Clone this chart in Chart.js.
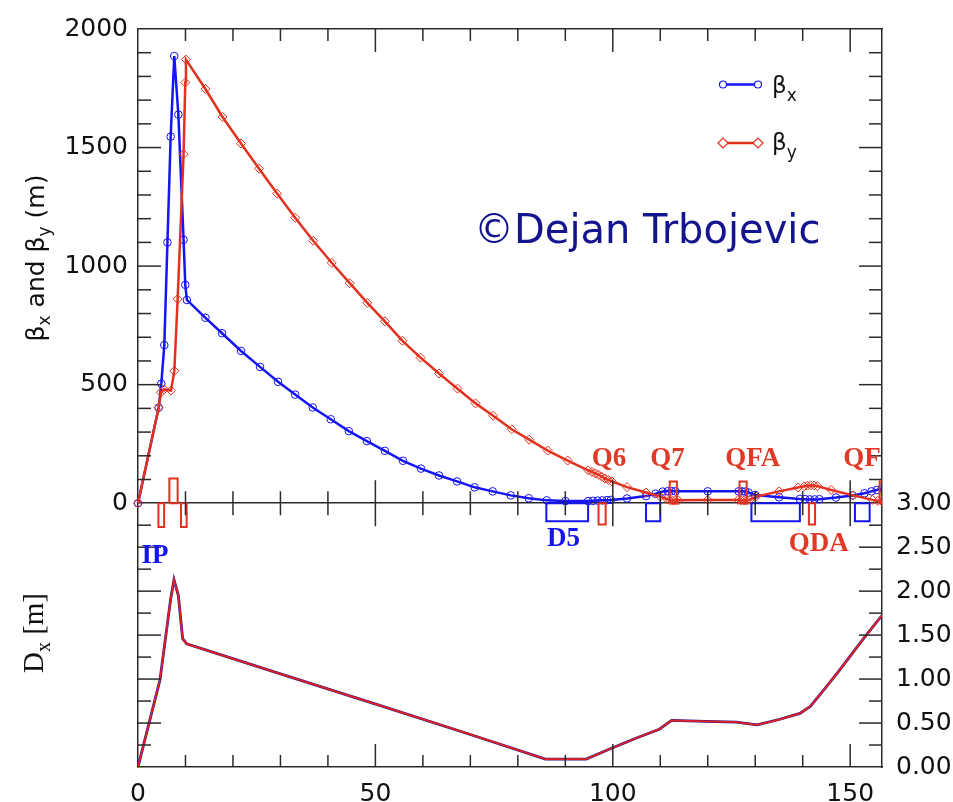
<!DOCTYPE html>
<html>
<head>
<meta charset="utf-8">
<script src="https://cdn.jsdelivr.net/npm/chart.js@4.4.0/dist/chart.umd.min.js"></script>
<style>
  html, body { margin: 0; padding: 0; background: #fff; }
  #wrap { width: 953px; height: 802px; }
</style>
</head>
<body>
<div id="wrap"><canvas id="lattice" width="953" height="802"></canvas></div>
<script>
// lattice functions, s in metres
var betaXPos = [0, 4.35, 4.91, 5.54, 6.2, 6.88, 7.64, 8.5, 9.6, 9.96, 10.3, 14.2, 17.7, 21.7, 25.7, 29.5, 33.1, 36.8, 40.6, 44.4, 48.2, 52.0, 55.8, 59.6, 63.4, 67.2, 70.9, 74.7, 78.5, 82.3, 86.1, 90.0, 94.8, 95.8, 96.8, 97.8, 98.8, 99.6, 103.0, 107.0, 109.0, 110.5, 111.6, 112.4, 113.2, 120.0, 126.5, 127.2, 127.9, 128.6, 130.0, 135.0, 139.4, 140.5, 141.5, 142.5, 143.5, 147.0, 150.5, 153.0, 154.5, 155.6, 156.7];
var betaXVal = [0, 403, 504, 667, 1100, 1546, 1886, 1639, 1111, 921, 857, 782, 717, 642, 575, 512, 458, 404, 354, 304, 262, 221, 179, 146, 117, 92, 67, 50, 33, 21, 12, 9, 9, 10, 11, 12, 13, 14, 20, 30, 40, 49, 51, 51, 50, 50, 50, 50, 49, 45, 35, 25, 18, 17, 16, 16, 17, 24, 33, 42, 50, 56, 62];

var betaYPos = [0, 4.35, 4.84, 5.5, 6.95, 7.65, 8.35, 9.6, 9.96, 10.1, 14.2, 17.8, 21.7, 25.5, 29.3, 33.1, 36.9, 40.8, 44.6, 48.3, 52.0, 55.7, 59.5, 63.4, 67.3, 71.1, 74.8, 78.7, 82.4, 86.3, 90.5, 94.8, 95.6, 96.3, 97.0, 97.7, 98.4, 99.1, 99.8, 103.0, 107.0, 110.0, 111.4, 112.0, 112.6, 113.2, 113.8, 120.0, 126.4, 127.0, 127.6, 128.2, 128.8, 130.2, 135.0, 139.0, 140.3, 141.0, 141.7, 142.4, 143.1, 146.0, 150.6, 154.7, 155.8, 156.7];
var betaYVal = [0, 403, 468, 480, 475, 558, 861, 1472, 1774, 1871, 1747, 1629, 1517, 1411, 1306, 1204, 1107, 1014, 928, 845, 767, 685, 614, 547, 483, 421, 369, 312, 268, 222, 180, 139, 132, 126, 120, 112, 104, 98, 92, 68, 45, 28, 18, 13, 11, 11, 12, 14, 14, 12, 11, 11, 14, 28, 50, 66, 71, 74, 76, 75, 72, 56, 33, 14, 10, 8];

var dispPos = [0, 4.63, 6.88, 7.58, 8.5, 9.4, 10.25, 30.0, 50.9, 70.0, 85.8, 94.4, 99.6, 105.0, 109.8, 112.4, 119.5, 126.0, 130.4, 135.0, 139.4, 141.6, 144.5, 147.6, 150.0, 152.8, 156.2, 156.7];
var dispVal = [0, 0.99, 1.91, 2.13, 1.95, 1.46, 1.40, 1.06, 0.70, 0.37, 0.09, 0.09, 0.21, 0.33, 0.43, 0.53, 0.52, 0.51, 0.48, 0.54, 0.61, 0.69, 0.88, 1.09, 1.26, 1.46, 1.69, 1.72];

// magnets: start / end in m, box height in beta units
var focQuadStart = [6.6, 112.0, 126.7, 156.2];
var focQuadEnd = [8.35, 113.5, 128.2, 157.3];
var focQuadHeight = [104, 92, 92, 92];
var defQuadStart = [4.3, 9.05, 97.0, 141.3];
var defQuadEnd = [5.5, 10.25, 98.5, 142.6];
var defQuadHeight = [-100, -100, -90, -90];
var dipoleStart = [86.0, 107.0, 129.2, 151.0];
var dipoleEnd = [94.8, 110.0, 139.4, 154.1];
var dipoleHeight = [-76, -76, -76, -76];

var magnetNames = ['Q6', 'Q7', 'QFA', 'QF', 'QDA', 'D5', 'IP'];
var magnetNameS = [99.2, 111.5, 129.5, 152.5, 143.4, 89.6, 3.6];
var magnetNameBeta = [158, 158, 158, 158, -200, -179, -254];

var sTickLabels = [0, 50, 100, 150];
var betaTickLabels = [0, 500, 1000, 1500, 2000];
var dispTickLabels = [0, 0.5, 1, 1.5, 2, 2.5, 3];

var BLUE = '#1414f5';
var RED = '#e2321f';
var LABEL_RED = '#e03a26';

function xy(xs, ys) {
    return xs.map(function (x, i) { return {x: x, y: ys[i]}; });
}

function boxes(starts, ends, heights) {
    var pts = [];
    starts.forEach(function (a, i) {
        var b = ends[i], h = heights[i];
        pts.push({x: a, y: 0}, {x: a, y: h}, {x: b, y: h}, {x: b, y: 0}, {x: a, y: 0}, {x: b, y: null});
    });
    return pts;
}

function boxSet(data, color) {
    return {
        data: data, yAxisID: 'y', borderColor: color, borderWidth: 2,
        pointRadius: 0, spanGaps: false, fill: false, tension: 0
    };
}

function fixedTicks(values) {
    return function (scale) {
        scale.ticks = values.map(function (v) { return {value: v}; });
    };
}

// draw a string with alternating subscripts: [text, sub, text, sub, ...]
function subText(ctx, parts, x, y, font, subFont, drop, center) {
    var w = 0;
    parts.forEach(function (p, i) { ctx.font = i % 2 ? subFont : font; w += ctx.measureText(p).width; });
    var cx = center ? x - w / 2 : x;
    ctx.textAlign = 'left';
    parts.forEach(function (p, i) {
        ctx.font = i % 2 ? subFont : font;
        ctx.fillText(p, cx, i % 2 ? y + drop : y);
        cx += ctx.measureText(p).width;
    });
}

var overlay = {
    id: 'overlay',
    afterDraw: function (chart) {
        var ctx = chart.ctx, a = chart.chartArea;
        var sx = chart.scales.x, sb = chart.scales.y, sd = chart.scales.yDisp;
        var mid = sb.getPixelForValue(0);
        var v, p, len;
        ctx.save();

        // inward tick marks on all frames
        ctx.strokeStyle = '#2a2a2a';
        ctx.lineWidth = 1.5;
        function line(x1, y1, x2, y2) {
            ctx.beginPath(); ctx.moveTo(x1, y1); ctx.lineTo(x2, y2); ctx.stroke();
        }
        for (v = 100; v < 2000; v += 100) {
            p = sb.getPixelForValue(v);
            len = v % 500 === 0 ? 23 : 13;
            line(a.left, p, a.left + len, p);
            line(a.right, p, a.right - len, p);
        }
        for (v = 0.25; v < 3; v += 0.25) {
            p = sd.getPixelForValue(v);
            len = Math.abs(v * 2 - Math.round(v * 2)) < 1e-6 ? 23 : 13;
            line(a.left, p, a.left + len, p);
            line(a.right, p, a.right - len, p);
        }
        for (v = 10; v <= 150; v += 10) {
            p = sx.getPixelForValue(v);
            len = v % 50 === 0 ? 23 : 12;
            line(p, a.top, p, a.top + len);
            line(p, a.bottom, p, a.bottom - len);
            line(p, mid - len, p, mid + len);
        }

        // axis titles
        ctx.fillStyle = '#111';
        ctx.textBaseline = 'alphabetic';
        ctx.save();
        ctx.translate(44, 258);
        ctx.rotate(-Math.PI / 2);
        subText(ctx, ['\u03b2', 'x', ' and \u03b2', 'y', ' (m)'], 0, 0,
            '25px "DejaVu Sans"', '17px "DejaVu Sans"', 6, true);
        ctx.restore();
        ctx.save();
        ctx.translate(43, 633);
        ctx.rotate(-Math.PI / 2);
        subText(ctx, ['D', 'x', ' [m]'], 0, 0,
            '29px "Liberation Serif"', '20px "Liberation Serif"', 7, true);
        ctx.restore();

        // legend
        var legend = [
            {y: 84.5, color: BLUE, style: 'circle', parts: ['\u03b2', 'x'], base: 93},
            {y: 143, color: RED, style: 'diamond', parts: ['\u03b2', 'y'], base: 150}
        ];
        legend.forEach(function (e) {
            ctx.strokeStyle = e.color;
            ctx.lineWidth = 2.5;
            line(723, e.y, 758, e.y);
            ctx.lineWidth = 1.2;
            [723, 758].forEach(function (mx) {
                ctx.beginPath();
                if (e.style === 'circle') {
                    ctx.arc(mx, e.y, 3.5, 0, Math.PI * 2);
                } else {
                    ctx.moveTo(mx - 5, e.y); ctx.lineTo(mx, e.y - 5);
                    ctx.lineTo(mx + 5, e.y); ctx.lineTo(mx, e.y + 5); ctx.closePath();
                }
                ctx.fillStyle = '#fff';
                ctx.fill();
                ctx.stroke();
            });
            ctx.fillStyle = '#111';
            subText(ctx, e.parts, 772, e.base, '23px "DejaVu Sans"', '17px "DejaVu Sans"', 8, false);
        });

        // magnet names
        ctx.font = 'bold 27px "Liberation Serif"';
        ctx.textAlign = 'center';
        magnetNames.forEach(function (name, i) {
            ctx.fillStyle = (name === 'D5' || name === 'IP') ? BLUE : LABEL_RED;
            ctx.fillText(name, sx.getPixelForValue(magnetNameS[i]), sb.getPixelForValue(magnetNameBeta[i]));
        });

        // watermark
        ctx.font = '40px "DejaVu Sans"';
        ctx.textAlign = 'left';
        ctx.fillStyle = '#14148f';
        ctx.fillText('\u00a9Dejan Trbojevic', 474, 243);
        ctx.restore();
    }
};

var tickFont = {family: 'DejaVu Sans', size: 25};
var frame = {display: true, color: '#2a2a2a', width: 1.5};

new Chart(document.getElementById('lattice').getContext('2d'), {
    type: 'line',
    data: {
        datasets: [
            boxSet(boxes(focQuadStart, focQuadEnd, focQuadHeight), RED),
            boxSet(boxes(defQuadStart, defQuadEnd, defQuadHeight), RED),
            boxSet(boxes(dipoleStart, dipoleEnd, dipoleHeight), BLUE),
            {
                label: 'betaY', data: xy(betaYPos, betaYVal), yAxisID: 'y',
                borderColor: RED, borderWidth: 2.5, tension: 0, fill: false,
                pointStyle: 'rectRot', pointRadius: 4.5, pointBorderWidth: 1,
                pointBorderColor: RED, pointBackgroundColor: 'rgba(255,255,255,0)',
                clip: {left: 8, top: 0, right: 0, bottom: 0}
            },
            {
                label: 'betaX', data: xy(betaXPos, betaXVal), yAxisID: 'y',
                borderColor: BLUE, borderWidth: 2.5, tension: 0, fill: false,
                pointStyle: 'circle', pointRadius: 3.8, pointBorderWidth: 1,
                pointBorderColor: BLUE, pointBackgroundColor: 'rgba(255,255,255,0)',
                clip: {left: 8, top: 0, right: 0, bottom: 0}
            },
            {
                label: 'Dx', data: xy(dispPos, dispVal), yAxisID: 'yDisp',
                borderColor: '#e42020', borderWidth: 1.8, pointRadius: 0, tension: 0, fill: false
            },
            {
                label: 'Dx', data: xy(dispPos, dispVal), yAxisID: 'yDisp',
                borderColor: '#2a1a8c', borderWidth: 2.8, pointRadius: 0, tension: 0, fill: false
            }
        ]
    },
    options: {
        responsive: false,
        animation: false,
        devicePixelRatio: 1,
        layout: {padding: 0},
        plugins: {legend: {display: false}, tooltip: {enabled: false}},
        scales: {
            x: {
                type: 'linear', position: 'bottom', min: 0, max: 156.7,
                afterBuildTicks: fixedTicks(sTickLabels),
                afterFit: function (s) { s.height = 35; },
                grid: {display: false}, border: frame,
                ticks: {
                    autoSkip: false, maxRotation: 0, padding: 4, color: '#111', font: tickFont,
                    callback: function (v) { return String(v); }
                }
            },
            xTop: {
                type: 'linear', position: 'top', min: 0, max: 156.7,
                afterFit: function (s) { s.height = 20; },
                grid: {display: false}, border: frame, ticks: {display: false}
            },
            y: {
                type: 'linear', position: 'left', min: -1112.5, max: 2000,
                afterBuildTicks: fixedTicks(betaTickLabels),
                afterFit: function (s) { s.width = 138; },
                grid: {
                    drawTicks: false, lineWidth: 1.5,
                    color: function (c) { return c.tick && c.tick.value === 0 ? '#2a2a2a' : 'rgba(0,0,0,0)'; }
                },
                border: frame,
                ticks: {
                    autoSkip: false, padding: 10, color: '#111', font: tickFont,
                    callback: function (v) { return String(v); }
                }
            },
            yDisp: {
                type: 'linear', position: 'right', min: 0, max: 8.393,
                afterBuildTicks: fixedTicks(dispTickLabels),
                afterFit: function (s) { s.width = 71; },
                grid: {display: false, drawTicks: false}, border: frame,
                ticks: {
                    autoSkip: false, padding: 14, color: '#111', font: tickFont,
                    callback: function (v) { return v.toFixed(2); }
                }
            }
        }
    },
    plugins: [overlay]
});
</script>
</body>
</html>
